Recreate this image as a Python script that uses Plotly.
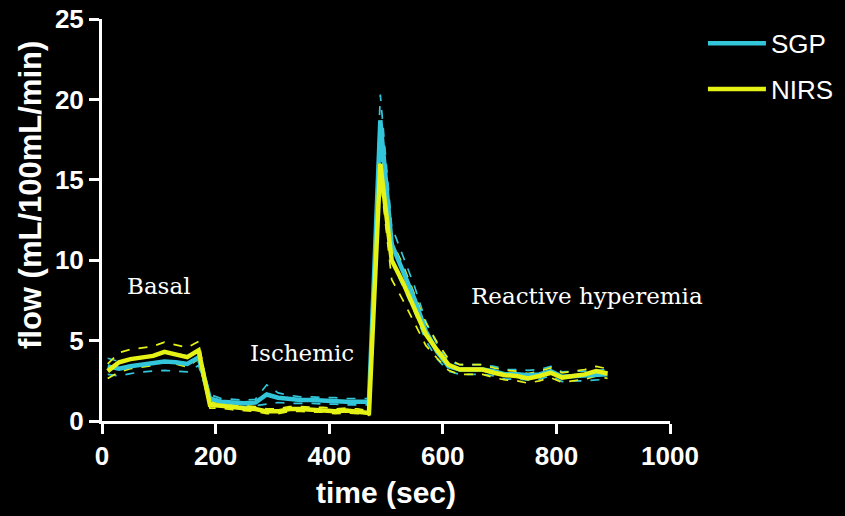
import plotly.graph_objects as go

# time points (sec)
time_s = [10, 30, 50, 70, 90, 110, 130, 150, 170, 190, 210, 230, 250, 270, 290, 310,
          330, 350, 370, 390, 410, 430, 450, 470, 490, 510, 530, 550, 570, 590, 610,
          630, 650, 670, 690, 710, 730, 750, 770, 790, 810, 830, 850, 870, 890]

# SGP mean and SEM (mL/100mL/min)
sgp_mean = [3.4, 3.25, 3.4, 3.5, 3.6, 3.7, 3.65, 3.55, 3.95,
            1.4, 1.2, 1.15, 1.1, 1.15, 1.65, 1.45, 1.35, 1.3, 1.3, 1.25, 1.25, 1.2, 1.2, 1.2,
            18.7, 11.0, 9.3, 7.6, 5.6, 4.3, 3.4, 3.2, 3.2, 3.2, 3.1, 2.9, 2.9, 2.85, 2.9,
            3.1, 2.75, 2.8, 2.8, 2.85, 2.9]
sgp_sem = [0.5, 0.45, 0.45, 0.45, 0.5, 0.55, 0.55, 0.5, 0.5,
           0.25, 0.2, 0.2, 0.2, 0.2, 0.6, 0.3, 0.25, 0.2, 0.2, 0.2, 0.2, 0.2, 0.2, 0.2,
           1.6, 1.1, 0.95, 0.8, 0.6, 0.45, 0.3, 0.3, 0.3, 0.3, 0.3, 0.3, 0.3, 0.3, 0.3,
           0.3, 0.3, 0.3, 0.3, 0.3, 0.3]

# NIRS mean and SEM (mL/100mL/min)
nirs_mean = [3.1, 3.65, 3.85, 3.95, 4.05, 4.3, 4.15, 3.97, 4.4,
             1.0, 0.95, 0.85, 0.8, 0.75, 0.6, 0.6, 0.75, 0.75, 0.7, 0.7, 0.6, 0.65, 0.6, 0.5,
             16.0, 10.0, 8.6, 7.0, 5.4, 4.4, 3.5, 3.2, 3.2, 3.2, 3.0, 2.85, 2.8, 2.65, 2.8,
             3.0, 2.7, 2.8, 2.9, 3.1, 2.95]
nirs_sem = [0.45, 0.6, 0.6, 0.6, 0.6, 0.6, 0.6, 0.6, 0.55,
            0.2, 0.15, 0.15, 0.15, 0.15, 0.15, 0.15, 0.15, 0.15, 0.15, 0.15, 0.15, 0.15, 0.15, 0.15,
            0.8, 1.2, 1.1, 0.9, 0.7, 0.5, 0.35, 0.3, 0.3, 0.3, 0.3, 0.3, 0.3, 0.3, 0.3,
            0.3, 0.3, 0.3, 0.3, 0.3, 0.3]

x_ticks = [0, 200, 400, 600, 800, 1000]
y_ticks = [0, 5, 10, 15, 20, 25]

phase_labels = ["Basal", "Ischemic", "Reactive hyperemia"]
phase_x = [101, 352, 853]
phase_y = [8.4, 4.2, 7.8]

CYAN = "#33c6da"
YELLOW = "#e4f216"

fig = go.Figure()

def add_series(name, mean, sem, color, group):
    upper = [m + s for m, s in zip(mean, sem)]
    lower = [m - s for m, s in zip(mean, sem)]
    for band in (upper, lower):
        fig.add_trace(go.Scatter(x=time_s, y=band, mode="lines",
                                 line=dict(color=color, width=1.7, dash="dash"),
                                 showlegend=False, hoverinfo="skip", legendgroup=group))
    return go.Scatter(x=time_s, y=mean, mode="lines", name=name,
                      line=dict(color=color, width=4.5), legendgroup=group)

sgp_tr = add_series("SGP", sgp_mean, sgp_sem, CYAN, "g1")
nirs_tr = add_series("NIRS", nirs_mean, nirs_sem, YELLOW, "g2")
fig.add_trace(sgp_tr)
fig.add_trace(nirs_tr)

for txt, px, py in zip(phase_labels, phase_x, phase_y):
    fig.add_annotation(x=px, y=py, text=txt, showarrow=False, xref="x", yref="y",
                       font=dict(family="DejaVu Serif", size=23, color="white"))

# y-axis title (placed as rotated text, slightly above centre as in the original)
fig.add_annotation(x=-72 / 567.5, xref="paper", xanchor="center", y=0.562, yref="paper",
                   yanchor="middle", text="flow (mL/100mL/min)", textangle=-90,
                   showarrow=False,
                   font=dict(family="Liberation Sans, Arial", size=31, color="white",
                             weight="bold"))

axis_common = dict(showline=True, linecolor="white", linewidth=3, ticks="outside",
                   tickcolor="white", tickwidth=3, ticklen=10, showgrid=False,
                   zeroline=False,
                   tickfont=dict(family="Liberation Sans, Arial", size=26, color="white",
                                 weight="bold"))

fig.update_layout(
    width=845, height=516,
    paper_bgcolor="black", plot_bgcolor="black",
    margin=dict(l=102, r=175, t=19, b=95, autoexpand=False),
    xaxis=dict(range=[0, 1000], tickvals=x_ticks, **axis_common,
               title=dict(text="time (sec)", standoff=12,
                          font=dict(family="Liberation Sans, Arial", size=30,
                                    color="white", weight="bold"))),
    yaxis=dict(range=[0, 25], tickvals=y_ticks, **axis_common),
    legend=dict(x=1.058, y=0.998, xanchor="left", yanchor="top", bgcolor="rgba(0,0,0,0)",
                font=dict(family="Liberation Sans, Arial", size=26, color="white"),
                tracegroupgap=9, itemwidth=58),
    showlegend=True,
)

fig.write_html("out.html")
